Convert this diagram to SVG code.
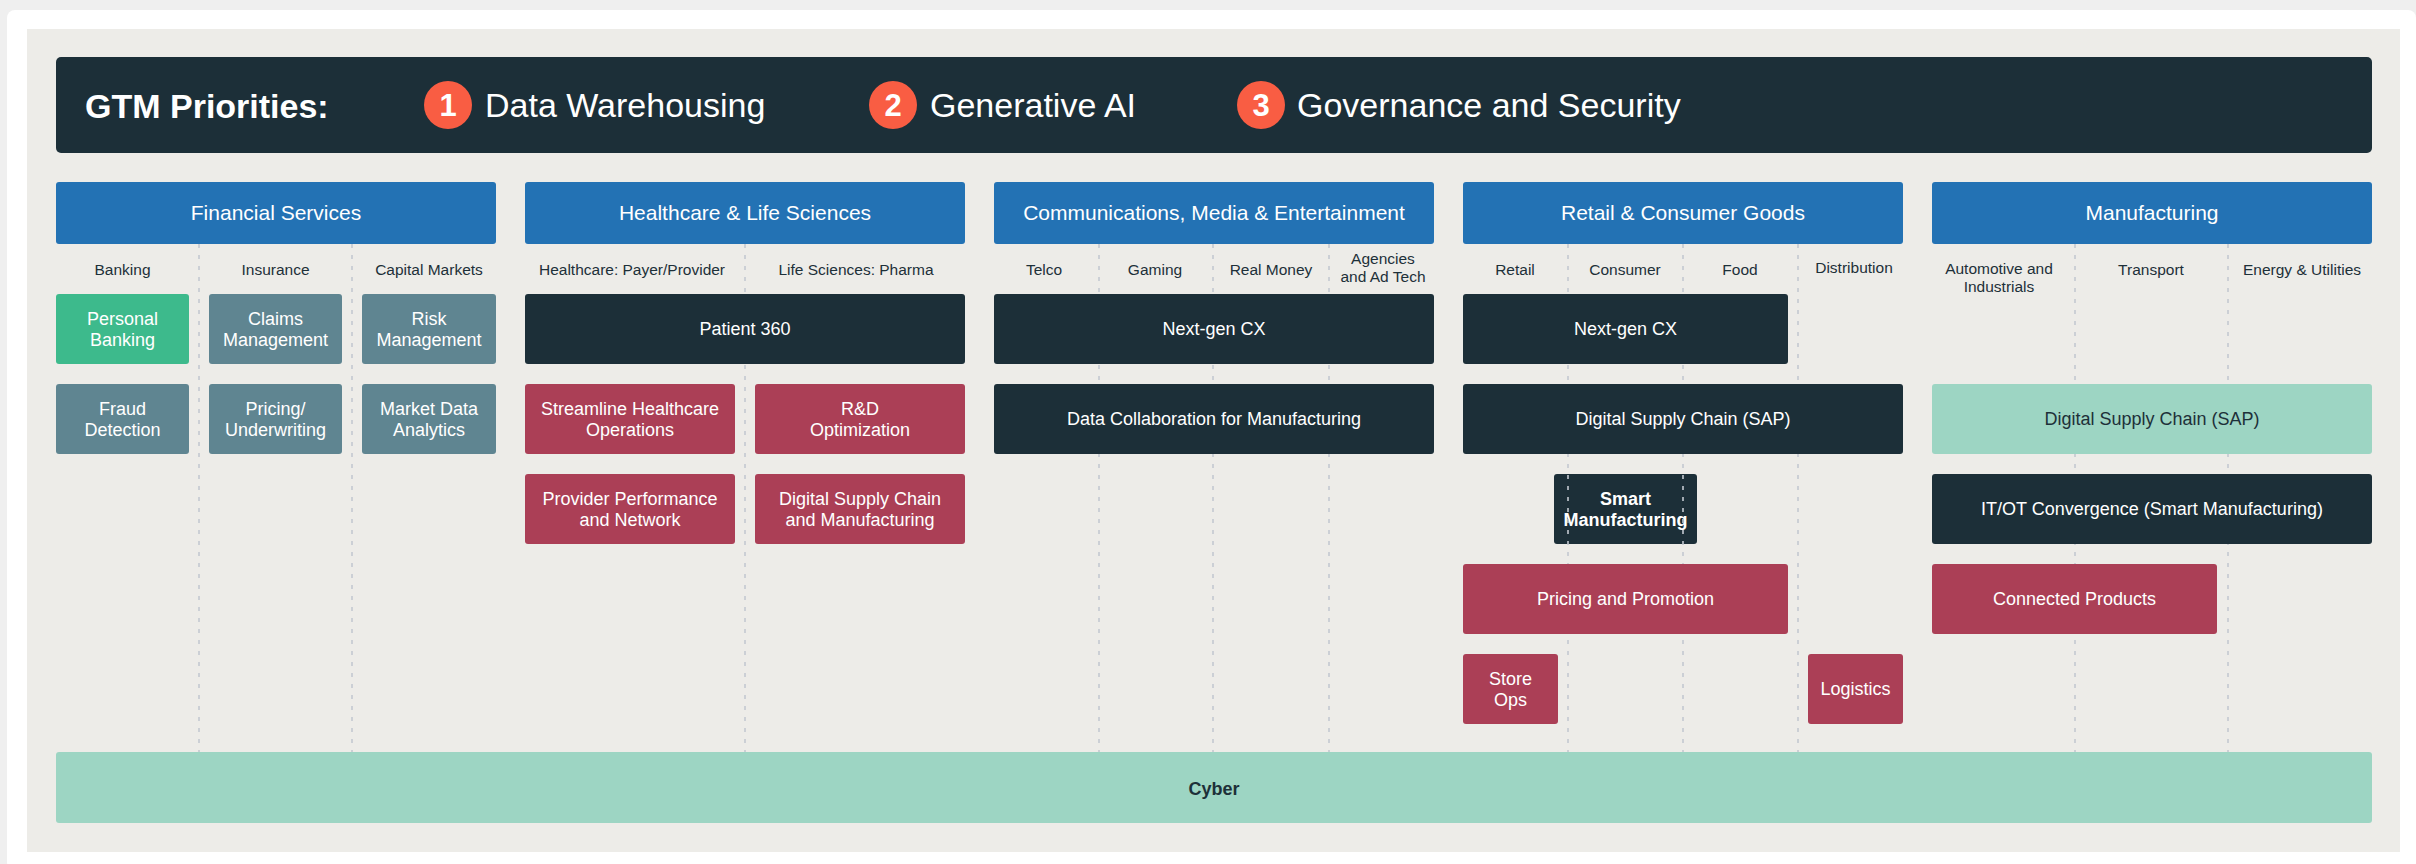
<svg xmlns="http://www.w3.org/2000/svg" width="2416" height="864" viewBox="0 0 2416 864">
<style>
text{font-family:"Liberation Sans",Arial,sans-serif;}
.hdr{fill:#fff;font-size:34px;}
.num{fill:#fff;font-size:31px;font-weight:bold;text-anchor:middle;}
.cat rect{fill:#2372b4;}
.cat text{fill:#fff;font-size:21px;text-anchor:middle;}
.sub{fill:#1d3039;font-size:15.5px;text-anchor:middle;}
.bx text{fill:#fff;font-size:18px;text-anchor:middle;}
.green rect{fill:#3dba8c;}
.slate rect{fill:#5f8591;}
.dark rect{fill:#1c2f38;}
.red rect{fill:#ab3f56;}
.mint rect{fill:#9dd5c3;}
.mint text{fill:#1d3039;}
.dash line{stroke:#c3c9d0;stroke-width:1.6;stroke-dasharray:4 7;}
</style>
<rect x="0" y="0" width="2416" height="864" fill="#efefef"/>
<rect x="7" y="10" width="2409" height="860" rx="8" fill="#ffffff"/>
<rect x="27" y="29" width="2373" height="823" fill="#edece8"/>

<g id="header">
<rect x="56" y="57" width="2316" height="96" rx="5" fill="#1c2f38"/>
<text class="hdr" x="85" y="118" font-weight="bold">GTM Priorities:</text>
<circle cx="448" cy="105" r="24" fill="#f95d43"/>
<text class="num" x="448" y="116">1</text>
<text class="hdr" x="485" y="117">Data Warehousing</text>
<circle cx="893" cy="105" r="24" fill="#f95d43"/>
<text class="num" x="893" y="116">2</text>
<text class="hdr" x="930" y="117">Generative AI</text>
<circle cx="1261" cy="105" r="24" fill="#f95d43"/>
<text class="num" x="1261" y="116">3</text>
<text class="hdr" x="1297" y="117">Governance and Security</text>
</g>

<g id="smart-manufacturing" class="bx dark">
<rect x="1554" y="474" width="143" height="70" rx="3"/>
<text x="1625.5" y="505" font-weight="bold" font-size="17px">Smart</text>
<text x="1625.5" y="526" font-weight="bold" font-size="17px">Manufacturing</text>
</g>

<g id="connectors" class="dash">
<line x1="199" y1="244" x2="199" y2="752"/>
<line x1="352" y1="244" x2="352" y2="752"/>
<line x1="745" y1="244" x2="745" y2="752"/>
<line x1="1099" y1="244" x2="1099" y2="752"/>
<line x1="1213" y1="244" x2="1213" y2="752"/>
<line x1="1329" y1="244" x2="1329" y2="752"/>
<line x1="1568" y1="244" x2="1568" y2="752"/>
<line x1="1683" y1="244" x2="1683" y2="752"/>
<line x1="1798" y1="244" x2="1798" y2="752"/>
<line x1="2075" y1="244" x2="2075" y2="752"/>
<line x1="2228" y1="244" x2="2228" y2="752"/>
</g>

<g id="cat-financial" class="cat"><rect x="56" y="182" width="440" height="62" rx="3"/><text x="276" y="220">Financial Services</text></g>
<g id="cat-healthcare" class="cat"><rect x="525" y="182" width="440" height="62" rx="3"/><text x="745" y="220">Healthcare &amp; Life Sciences</text></g>
<g id="cat-comms" class="cat"><rect x="994" y="182" width="440" height="62" rx="3"/><text x="1214" y="220">Communications, Media &amp; Entertainment</text></g>
<g id="cat-retail" class="cat"><rect x="1463" y="182" width="440" height="62" rx="3"/><text x="1683" y="220">Retail &amp; Consumer Goods</text></g>
<g id="cat-manufacturing" class="cat"><rect x="1932" y="182" width="440" height="62" rx="3"/><text x="2152" y="220">Manufacturing</text></g>

<g id="subcategories">
<text class="sub" x="122.5" y="275">Banking</text>
<text class="sub" x="275.5" y="275">Insurance</text>
<text class="sub" x="429" y="275">Capital Markets</text>
<text class="sub" x="632" y="275">Healthcare: Payer/Provider</text>
<text class="sub" x="856" y="275">Life Sciences: Pharma</text>
<text class="sub" x="1044" y="275">Telco</text>
<text class="sub" x="1155" y="275">Gaming</text>
<text class="sub" x="1271" y="275">Real Money</text>
<text class="sub" x="1383" y="264">Agencies</text>
<text class="sub" x="1383" y="282">and Ad Tech</text>
<text class="sub" x="1515" y="275">Retail</text>
<text class="sub" x="1625" y="275">Consumer</text>
<text class="sub" x="1740" y="275">Food</text>
<text class="sub" x="1854" y="273">Distribution</text>
<text class="sub" x="1999" y="274">Automotive and</text>
<text class="sub" x="1999" y="292">Industrials</text>
<text class="sub" x="2151" y="275">Transport</text>
<text class="sub" x="2302" y="275">Energy &amp; Utilities</text>
</g>

<g id="personal-banking" class="bx green"><rect x="56" y="294" width="133" height="70" rx="3"/><text x="122.5" y="325">Personal</text><text x="122.5" y="346">Banking</text></g>
<g id="claims-management" class="bx slate"><rect x="209" y="294" width="133" height="70" rx="3"/><text x="275.5" y="325">Claims</text><text x="275.5" y="346">Management</text></g>
<g id="risk-management" class="bx slate"><rect x="362" y="294" width="134" height="70" rx="3"/><text x="429" y="325">Risk</text><text x="429" y="346">Management</text></g>
<g id="fraud-detection" class="bx slate"><rect x="56" y="384" width="133" height="70" rx="3"/><text x="122.5" y="415">Fraud</text><text x="122.5" y="436">Detection</text></g>
<g id="pricing-underwriting" class="bx slate"><rect x="209" y="384" width="133" height="70" rx="3"/><text x="275.5" y="415">Pricing/</text><text x="275.5" y="436">Underwriting</text></g>
<g id="market-data-analytics" class="bx slate"><rect x="362" y="384" width="134" height="70" rx="3"/><text x="429" y="415">Market Data</text><text x="429" y="436">Analytics</text></g>

<g id="patient-360" class="bx dark"><rect x="525" y="294" width="440" height="70" rx="3"/><text x="745" y="335">Patient 360</text></g>
<g id="streamline-healthcare" class="bx red"><rect x="525" y="384" width="210" height="70" rx="3"/><text x="630" y="415">Streamline Healthcare</text><text x="630" y="436">Operations</text></g>
<g id="rd-optimization" class="bx red"><rect x="755" y="384" width="210" height="70" rx="3"/><text x="860" y="415">R&amp;D</text><text x="860" y="436">Optimization</text></g>
<g id="provider-performance" class="bx red"><rect x="525" y="474" width="210" height="70" rx="3"/><text x="630" y="505">Provider Performance</text><text x="630" y="526">and Network</text></g>
<g id="digital-supply-chain-mfg" class="bx red"><rect x="755" y="474" width="210" height="70" rx="3"/><text x="860" y="505">Digital Supply Chain</text><text x="860" y="526">and Manufacturing</text></g>

<g id="cme-next-gen-cx" class="bx dark"><rect x="994" y="294" width="440" height="70" rx="3"/><text x="1214" y="335">Next-gen CX</text></g>
<g id="data-collaboration" class="bx dark"><rect x="994" y="384" width="440" height="70" rx="3"/><text x="1214" y="425">Data Collaboration for Manufacturing</text></g>

<g id="retail-next-gen-cx" class="bx dark"><rect x="1463" y="294" width="325" height="70" rx="3"/><text x="1625.5" y="335">Next-gen CX</text></g>
<g id="retail-digital-supply-chain" class="bx dark"><rect x="1463" y="384" width="440" height="70" rx="3"/><text x="1683" y="425">Digital Supply Chain (SAP)</text></g>
<g id="pricing-promotion" class="bx red"><rect x="1463" y="564" width="325" height="70" rx="3"/><text x="1625.5" y="605">Pricing and Promotion</text></g>
<g id="store-ops" class="bx red"><rect x="1463" y="654" width="95" height="70" rx="3"/><text x="1510.5" y="685">Store</text><text x="1510.5" y="706">Ops</text></g>
<g id="logistics" class="bx red"><rect x="1808" y="654" width="95" height="70" rx="3"/><text x="1855.5" y="695">Logistics</text></g>

<g id="mfg-digital-supply-chain" class="bx mint"><rect x="1932" y="384" width="440" height="70" rx="3"/><text x="2152" y="425">Digital Supply Chain (SAP)</text></g>
<g id="itot-convergence" class="bx dark"><rect x="1932" y="474" width="440" height="70" rx="3"/><text x="2152" y="515">IT/OT Convergence (Smart Manufacturing)</text></g>
<g id="connected-products" class="bx red"><rect x="1932" y="564" width="285" height="70" rx="3"/><text x="2074.5" y="605">Connected Products</text></g>

<g id="cyber" class="bx mint"><rect x="56" y="752" width="2316" height="71" rx="3"/><text x="1214" y="795" font-weight="bold" font-size="22px">Cyber</text></g>
</svg>
